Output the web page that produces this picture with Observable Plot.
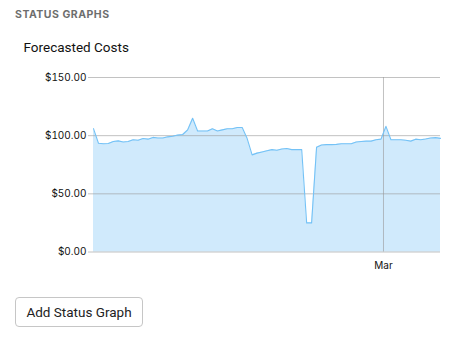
<!DOCTYPE html>
<html>
<head>
<meta charset="utf-8">
<script src="https://cdn.jsdelivr.net/npm/d3@7"></script>
<script src="https://cdn.jsdelivr.net/npm/@observablehq/plot@0.6"></script>
<style>
  html, body { margin: 0; padding: 0; background: #fff; }
  body { width: 449px; height: 340px; position: relative; overflow: hidden; font-family: Roboto, "Noto Sans", sans-serif; }
  #section { position: absolute; left: 15px; top: 8px; font-family: Inter, sans-serif; font-size: 10.5px; font-weight: 700; color: #6e6e6e; letter-spacing: 0.5px; }
  #title { position: absolute; left: 23.5px; top: 39px; font-size: 13.5px; color: #111; }
  #chart { position: absolute; left: 0; top: 60px; }
  #btn { position: absolute; left: 15px; top: 297px; width: 128px; height: 30px; box-sizing: border-box; border: 1px solid #c6c6c6; border-radius: 4px; font-size: 13.5px; color: #222; display: flex; align-items: center; justify-content: center; background: #fff; }
</style>
</head>
<body>
<div id="section">STATUS GRAPHS</div>
<div id="title">Forecasted Costs</div>
<div id="chart"></div>
<div id="btn">Add Status Graph</div>
<script>
// Daily forecasted cost values, starting Jan 1 (noon)
const startDate = new Date(2023, 0, 1, 12);
const costs = [
  106, 93.5, 93, 93.3, 95, 95.5, 94.5, 95, 96.5, 96,
  97.5, 97, 98.5, 98, 98, 99, 99.5, 100.5, 101, 105,
  115, 104, 104, 104, 106, 104, 105, 106, 106, 107,
  107, 97.5, 83.5, 85, 86, 87, 88, 87.5, 88.5, 89,
  88, 88, 88, 25, 25, 90, 92, 92.3, 92.3, 92.5,
  93, 93, 93, 94.5, 95, 95.3, 95.3, 96.5, 97, 108,
  96.5, 96.5, 96.5, 96, 95.3, 97, 96.5, 97.2, 98, 98.3,
  97.7
];
const yTicks = [0, 50, 100, 150];
const xTicks = [new Date(2023, 2, 1)];

const data = costs.map((v, i) => ({date: d3.timeDay.offset(startDate, i), value: v}));

const chart = Plot.plot({
  width: 449,
  height: 220,
  marginLeft: 93,
  marginRight: 9,
  marginTop: 17,
  marginBottom: 28.5,
  style: {fontFamily: "Inter, 'Noto Sans', sans-serif", fontSize: "10px", color: "#111", background: "transparent"},
  x: {type: "time", domain: [data[0].date, data[data.length - 1].date]},
  y: {domain: [0, 150]},
  marks: [
    Plot.areaY(data, {x: "date", y: "value", fill: "#d0eafc"}),
    Plot.ruleY(yTicks, {stroke: "#999", strokeOpacity: 0.6}),
    Plot.ruleX(xTicks, {stroke: "#999", strokeOpacity: 0.6, y1: 0, y2: 150}),
    Plot.lineY(data, {x: "date", y: "value", stroke: "#74c2f6", strokeWidth: 1.1}),
    Plot.axisY({ticks: yTicks, tickSize: 5, tickPadding: 2, tickFormat: d => "$" + d.toFixed(2), stroke: "#999", strokeOpacity: 0.6, label: null}),
    Plot.axisX({ticks: xTicks, tickSize: 0, tickPadding: 10, tickFormat: d3.timeFormat("%b"), label: null})
  ]
});
document.getElementById("chart").appendChild(chart);
</script>
</body>
</html>
